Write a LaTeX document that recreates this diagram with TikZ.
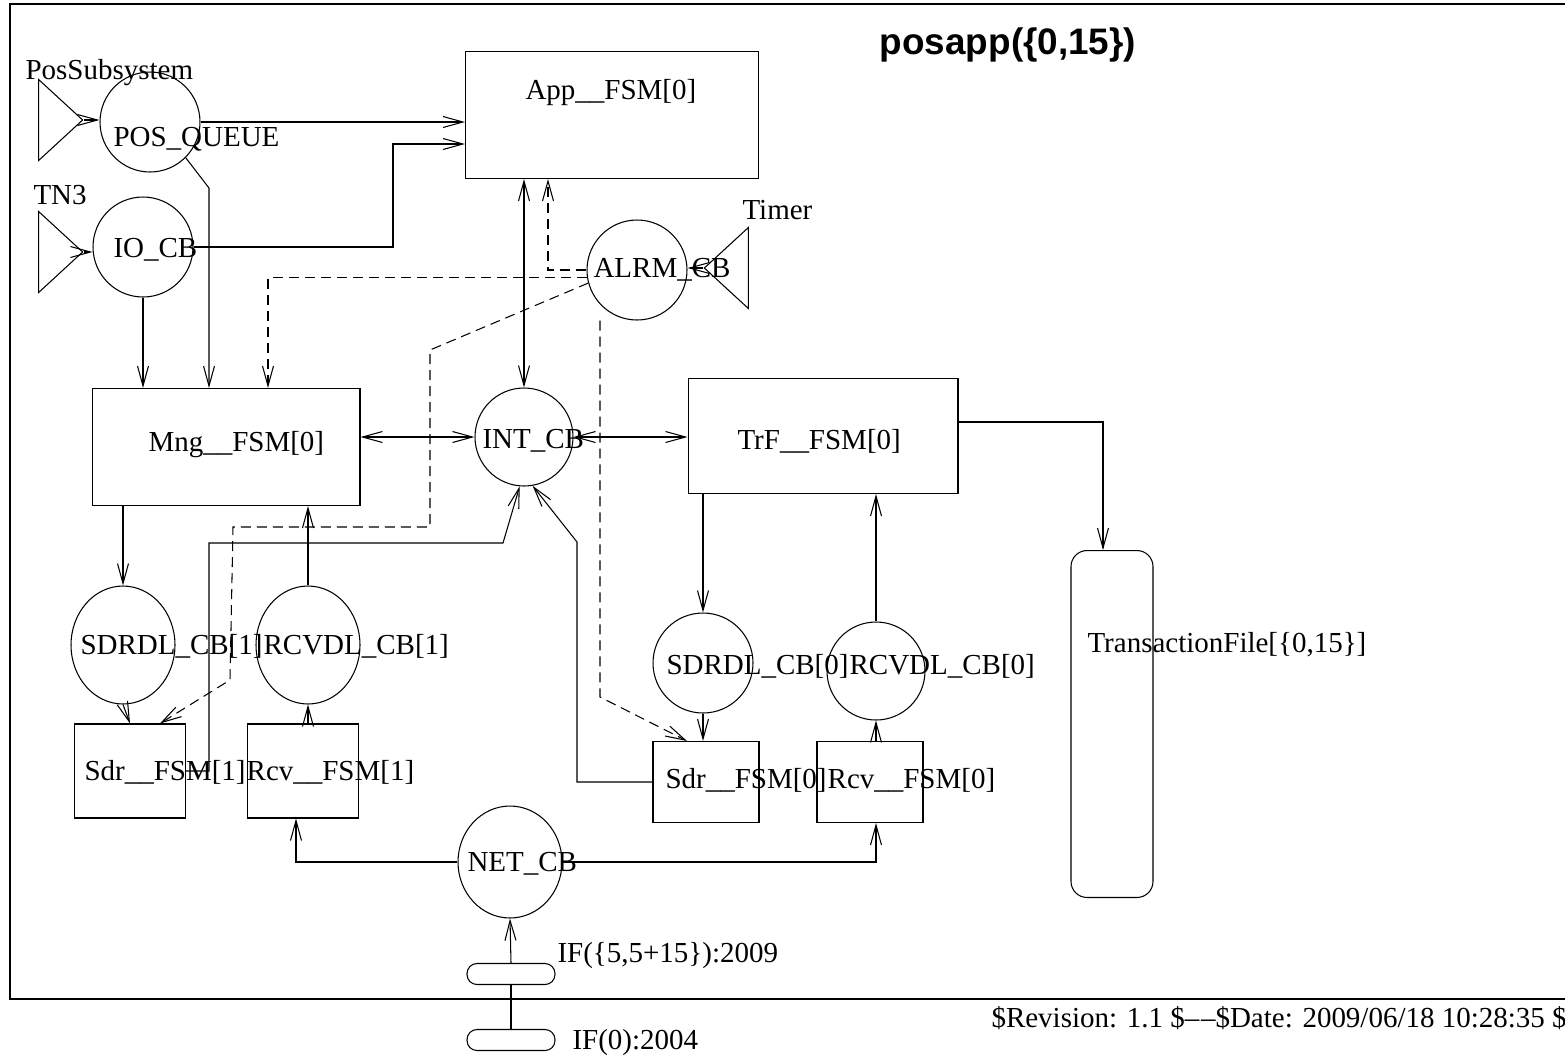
\documentclass[tikz,border=0pt]{standalone}
\usepackage{fontspec}
\setmainfont{Liberation Serif}
\newfontfamily\headfont{Liberation Sans}
\usetikzlibrary{arrows.meta,positioning,shapes.geometric}

\begin{document}
\begin{tikzpicture}[
        x=0.02cm, y=-0.02cm, line width=0.6pt,
        >={Straight Barb[length=4mm,width=2.2mm]},
        fsm/.style={rectangle, draw, inner sep=0pt},
        cb/.style={circle, draw, inner sep=0pt, minimum size=2cm},
        ecb/.style={ellipse, draw, inner sep=0pt},
        port/.style={isosceles triangle, draw, inner sep=0pt, isosceles triangle stretches,
            minimum width=1.62cm, minimum height=0.88cm},
        ifbox/.style={rectangle, draw, rounded corners=0.2cm, inner sep=0pt,
            minimum width=1.76cm, minimum height=0.42cm},
        lbl/.style={anchor=west, inner sep=0pt, text height=13pt, text depth=2pt,
            font=\fontsize{16.5}{18}\selectfont},
        sig/.style={dash pattern=on 0.2cm off 0.12cm}
    ]
    \useasboundingbox (0,0) rectangle (1565,1056);
    \draw[line width=0.8pt] (1570,4) -- (10,4) -- (10,999) -- (1570,999);

    % blocks
    \node[port, anchor=apex] (possub) at (84,120) {};
    \node[port, anchor=apex] (tn3) at (84,252) {};
    \node[port, shape border rotate=180, anchor=apex] (timer) at (703,268) {};
    \node[cb] (posq) at (150,122) {};
    \node[cb] (iocb) at (143,247) {};
    \node[fsm, minimum width=5.86cm, minimum height=2.54cm] (app) at (612,115) {};
    \node[cb] (alrm) at (637,270) {};
    \node[fsm, minimum width=5.36cm, minimum height=2.34cm] (mng) at (226,447) {};
    \node[cb, minimum size=1.96cm] (intcb) at (524,437) {};
    \node[fsm, minimum width=5.4cm, minimum height=2.3cm] (trf) at (823,436) {};
    \node[fsm, rounded corners=0.32cm, minimum width=1.64cm, minimum height=6.94cm] (tfile) at (1112,724) {};
    \node[ecb, minimum width=2.08cm, minimum height=2.36cm] (sdrdl1) at (123,645) {};
    \node[ecb, minimum width=2.08cm, minimum height=2.36cm] (rcvdl1) at (308,645) {};
    \node[fsm, minimum width=2.22cm, minimum height=1.88cm] (sdr1) at (130,771) {};
    \node[fsm, minimum width=2.22cm, minimum height=1.88cm] (rcv1) at (303,771) {};
    \node[cb] (sdrdl0) at (703,663) {};
    \node[cb, minimum size=1.96cm] (rcvdl0) at (876,671) {};
    \node[fsm, minimum width=2.12cm, minimum height=1.62cm] (sdr0) at (706,782) {};
    \node[fsm, minimum width=2.12cm, minimum height=1.62cm] (rcv0) at (870,782) {};
    \node[ecb, minimum width=2.08cm, minimum height=2.24cm] (netcb) at (510,862) {};
    \node[ifbox] (if1) at (511,974) {};
    \node[ifbox] (if0) at (511,1040) {};

    % labels
    \node[font=\headfont\bfseries\fontsize{21}{24}\selectfont] (title) at (1008,45) {posapp(\{0,15\})};
    \node[lbl] (possub-t) at (25,70) {PosSubsystem};
    \node[lbl] (tn3-t) at (33,195) {TN3};
    \node[lbl] (timer-t) at (742,210) {Timer};
    \node[lbl] (posq-t) at (113,137) {POS\_QUEUE};
    \node[lbl] (iocb-t) at (113,248) {IO\_CB};
    \node[lbl] (app-t) at (525,90) {App\_\_FSM[0]};
    \node[lbl] (alrm-t) at (593,268) {ALRM\_CB};
    \node[lbl] (mng-t) at (148,442) {Mng\_\_FSM[0]};
    \node[lbl] (intcb-t) at (482,439) {INT\_CB};
    \node[lbl] (trf-t) at (737,440) {TrF\_\_FSM[0]};
    \node[lbl] (tfile-t) at (1087,643) {TransactionFile[\{0,15\}]};
    \node[lbl] (sdrdl1-t) at (80,645) {SDRDL\_CB[1]};
    \node[lbl, right=0pt of sdrdl1-t] (rcvdl1-t) {RCVDL\_CB[1]};
    \node[lbl] (sdr1-t) at (84,771) {Sdr\_\_FSM[1]};
    \node[lbl, right=0pt of sdr1-t] (rcv1-t) {Rcv\_\_FSM[1]};
    \node[lbl] (sdrdl0-t) at (666,665) {SDRDL\_CB[0]};
    \node[lbl, right=0pt of sdrdl0-t] (rcvdl0-t) {RCVDL\_CB[0]};
    \node[lbl] (sdr0-t) at (665,779) {Sdr\_\_FSM[0]};
    \node[lbl, right=0pt of sdr0-t] (rcv0-t) {Rcv\_\_FSM[0]};
    \node[lbl] (netcb-t) at (467,862) {NET\_CB};
    \node[lbl] (if1-t) at (557,953) {IF(\{5,5+15\}):2009};
    \node[lbl] (if0-t) at (572,1040) {IF(0):2004};
    \node[lbl] (rev) at (991,1018) {\$Revision: 1.1 \$\textendash\kern1pt\textendash\$Date: 2009/06/18 10:28:35 \$};

    % data flows
    \draw[->] (possub.apex) -- (posq.west |- possub.apex);
    \draw[->] (tn3.apex) -- (iocb.west |- tn3.apex);
    \draw[->] (timer.apex) -- (alrm.east |- timer.apex);
    \draw[->] (posq.east) -- (posq.east -| app.west);
    \draw[->] (iocb.east) -- (393,247) -- (393,144) -- (app.west |- 0,144);
    \draw[->] (posq.-45) -- (209,188) -- (mng.north -| 209,0);
    \draw[->] (iocb.south) -- (iocb.south |- mng.north);
    \draw[<->] (app.south -| intcb.north) -- (intcb.north);
    \draw[<->] (mng.east |- intcb.west) -- (intcb.west);
    \draw[<->] (intcb.east) -- (trf.west |- intcb.east);
    \draw[->] (trf.east |- 0,422) -- (1103,422) -- (tfile.north -| 1103,0);
    \draw[->] (trf.south -| sdrdl0.north) -- (sdrdl0.north);
    \draw[->] (rcvdl0.north) -- (rcvdl0.north |- trf.south);
    \draw[->] (sdrdl0.south) -- (sdrdl0.south |- sdr0.north);
    \draw[->] (rcv0.north -| rcvdl0.south) -- (rcvdl0.south);
    \draw[->] (sdr0.west) -| (577,542) -- (intcb.-80);
    \draw[->] (sdr1.east) -| (209,543) -- (503,543) -- (intcb.-95);
    \draw[->] (sdrdl1.north |- mng.south) -- (sdrdl1.north);
    \draw[->] (sdrdl1.south) -- (sdr1.north);
    \draw[->] (rcvdl1.north) -- (rcvdl1.north |- mng.south);
    \draw[->] (rcv1.north -| rcvdl1.south) -- (rcvdl1.south);
    \draw[->] (netcb.west) -| (rcv1.south -| 296,0);
    \draw[->] (netcb.east) -| (rcv0.south -| 876,0);
    \draw[->] (if1.north) -- (netcb.south);
    \draw (if0.north) -- (if1.south);

    % timer signals
    \draw[sig,->] (alrm.west) -- (548,270) -- (app.south -| 548,0);
    \draw[sig,->] (alrm.189) -| (mng.north -| 268,0);
    \draw[sig,->] (alrm.195) -- (430,350) -- (430,527) -- (233,527) -- (230,680) -- (sdr1.north -| 160,0);
    \draw[sig,->] (alrm.south -| 600,0) -- (600,697) -- (sdr0.north -| 687,0);
\end{tikzpicture}
\end{document}
